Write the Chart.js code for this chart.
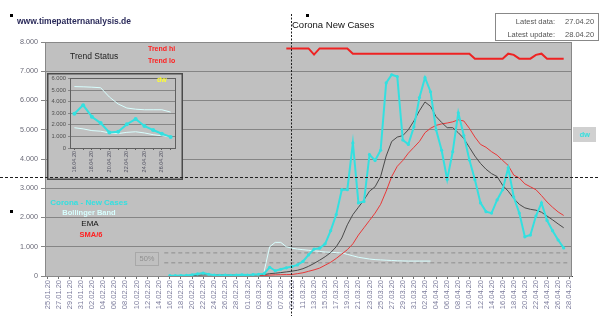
<!DOCTYPE html>
<html><head><meta charset="utf-8">
<script src="https://cdn.jsdelivr.net/npm/chart.js@4.4.1/dist/chart.umd.min.js"></script>
<style>
html,body{margin:0;padding:0;background:#fff;width:600px;height:316px;overflow:hidden;font-family:"Liberation Sans",Arial,sans-serif;}
#wrap{position:relative;width:600px;height:316px;}
canvas{position:absolute;}
.t{position:absolute;white-space:nowrap;line-height:1;}
.dot{position:absolute;width:3px;height:3px;background:#000;}
</style></head><body>
<div id="wrap">
<canvas id="main" width="600" height="316" style="left:0;top:0"></canvas>
<canvas id="inset" width="136" height="107" style="left:47px;top:73px"></canvas>

<div class="dot" style="left:10px;top:14px"></div>
<div class="dot" style="left:306px;top:14px"></div>
<div class="dot" style="left:10px;top:210px"></div>

<div class="t" style="left:17px;top:17px;font-size:8.5px;font-weight:bold;color:#2a2a5a">www.timepatternanalysis.de</div>
<div class="t" style="left:292px;top:20px;font-size:9.5px;color:#111">Corona New Cases</div>

<div style="position:absolute;left:495px;top:13px;width:102px;height:26px;border:1px solid #888;background:#fff;"></div>
<div class="t" style="left:495px;top:18px;width:60px;text-align:right;font-size:7.5px;color:#555">Latest data:</div>
<div class="t" style="left:565px;top:18px;font-size:7.5px;color:#555">27.04.20</div>
<div class="t" style="left:495px;top:31px;width:60px;text-align:right;font-size:7.5px;color:#555">Latest update:</div>
<div class="t" style="left:565px;top:31px;font-size:7.5px;color:#555">28.04.20</div>

<div class="t" style="left:70px;top:52px;font-size:8.5px;color:#222">Trend Status</div>
<div class="t" style="left:148px;top:45px;font-size:7px;font-weight:bold;color:#ff2020">Trend hi</div>
<div class="t" style="left:148px;top:57px;font-size:7px;font-weight:bold;color:#ff2020">Trend lo</div>
<div class="t" style="left:157px;top:76px;font-size:7px;font-weight:bold;color:#ffff30">dw</div>

<div class="t" style="left:39px;top:199px;width:100px;text-align:center;font-size:8px;font-weight:bold;color:#33e0e0">Corona - New Cases</div>
<div class="t" style="left:39px;top:209px;width:100px;text-align:center;font-size:7.5px;font-weight:bold;color:#d8ffff">Bollinger Band</div>
<div class="t" style="left:40px;top:220px;width:100px;text-align:center;font-size:8px;color:#111">EMA</div>
<div class="t" style="left:41px;top:231px;width:100px;text-align:center;font-size:7.5px;font-weight:bold;color:#ff2020">SMA/6</div>

<div class="t" style="left:135px;top:252px;width:24px;height:14px;border:1px solid #a8a8a8;box-sizing:border-box;text-align:center;font-size:7.5px;line-height:12px;color:#909090">50%</div>
<div class="t" style="left:573px;top:127px;width:23px;height:15px;background:#d0d0d0;text-align:center;font-size:7.5px;line-height:15px;font-weight:bold;color:#33e0e0">dw</div>

<canvas id="overlay" width="600" height="316" style="left:0;top:0;pointer-events:none"></canvas>
</div>
<script>
// ---------- categories (daily) ----------
const dateLabels = [
 '25.01.20','26.01.20','27.01.20','28.01.20','29.01.20','30.01.20','31.01.20',
 '01.02.20','02.02.20','03.02.20','04.02.20','05.02.20','06.02.20','07.02.20','08.02.20','09.02.20','10.02.20',
 '11.02.20','12.02.20','13.02.20','14.02.20','15.02.20','16.02.20','17.02.20','18.02.20','19.02.20','20.02.20',
 '21.02.20','22.02.20','23.02.20','24.02.20','25.02.20','26.02.20','27.02.20','28.02.20','29.02.20',
 '01.03.20','02.03.20','03.03.20','04.03.20','05.03.20','06.03.20','07.03.20','08.03.20','09.03.20','10.03.20',
 '11.03.20','12.03.20','13.03.20','14.03.20','15.03.20','16.03.20','17.03.20','18.03.20','19.03.20','20.03.20',
 '21.03.20','22.03.20','23.03.20','24.03.20','25.03.20','26.03.20','27.03.20','28.03.20','29.03.20','30.03.20','31.03.20',
 '01.04.20','02.04.20','03.04.20','04.04.20','05.04.20','06.04.20','07.04.20','08.04.20','09.04.20','10.04.20',
 '11.04.20','12.04.20','13.04.20','14.04.20','15.04.20','16.04.20','17.04.20','18.04.20','19.04.20','20.04.20',
 '21.04.20','22.04.20','23.04.20','24.04.20','25.04.20','26.04.20','27.04.20','28.04.20'
];

// ---------- series (each starts at the given date) ----------
const casesStart = '16.02.20';
const cases = [10,10,15,20,40,70,100,60,30,20,30,20,30,40,30,50,60,80,
  300,180,230,280,320,380,500,720,920,950,1100,1550,2100,2950,2950,4550,2500,2550,4150,3950,4300,
  6600,6880,6820,4650,4500,5100,6100,6780,6300,5000,4300,3300,4250,5580,4800,3970,3290,
  2500,2200,2150,2600,2950,3700,2700,2150,1340,1400,2050,2500,1900,1550,1230,960];

const emaStart = '16.02.20';
const ema = [5,6,8,10,15,25,35,40,38,35,33,30,30,32,32,36,40,48,
  80,95,115,140,165,195,250,330,430,540,660,800,1000,1300,1750,2100,2350,2600,2900,3050,
  3400,4100,4600,4750,4800,5000,5300,5650,5950,5800,5450,5250,5070,5070,4900,4700,4400,4100,3850,3650,
  3500,3400,3100,2900,2650,2450,2330,2280,2250,2180,2050,1920,1780,1650];

const smaStart = '03.03.20';
const sma = [10,15,30,40,45,48,50,80,110,160,210,270,370,470,600,750,
  900,1100,1400,1650,1900,2150,2450,2900,3400,3750,3950,4200,4400,4600,4900,5050,5150,5200,5230,5270,
  5340,5300,5050,4750,4500,4400,4250,4130,3950,3780,3450,3350,3150,3050,2950,2750,2530,2350,2190,2070];

const bollingerStart = '04.03.20';
const bollinger = [150,1000,1150,1150,1000,950,920,900,880,860,840,820,810,800,790,740,690,640,610,580,
  560,550,540,530,520,515,510,510,510,510,510];

const trendHiStart = '08.03.20';
const trendHi = [7780,7780,7780,7780,7780,7570,7780,7780,7780,7780,7780,7780,
  7600,7600,7600,7600,7600,7600,7600,7600,7600,7600,7600,7600,7600,7600,7600,7600,7600,7600,7600,7600,7600,7600,
  7430,7430,7430,7430,7430,7430,7600,7560,7430,7430,7430,7560,7600,7430,7430,7430,7430];

const bandLevels = [790, 450];          // dashed "50%" levels
const bandFrom = '15.02.20', bandTo = '28.04.20';
const thresholdLevel = 3400;            // long horizontal dashed line
const markerDate = '09.03.20';          // vertical dashed line

// inset (last 12 days)
const insetLabels = ['16.04.20','17.04.20','18.04.20','19.04.20','20.04.20','21.04.20','22.04.20','23.04.20','24.04.20','25.04.20','26.04.20','27.04.20'];
const insetCases = [2950,3700,2700,2150,1340,1400,2050,2500,1900,1550,1230,960];
const insetUpper = [5300,5280,5250,5200,4400,3800,3450,3350,3300,3300,3300,3100];
const insetLower = [1750,1650,1500,1450,1300,1250,1350,1400,1300,1150,1050,950];

// ---------- helpers ----------
function pad(startLabel, arr){
  const s = dateLabels.indexOf(startLabel);
  return dateLabels.map((_, i) => (i >= s && i < s + arr.length) ? arr[i - s] : null);
}
function constLine(v, fromLabel, toLabel){
  const a = dateLabels.indexOf(fromLabel), b = dateLabels.indexOf(toLabel);
  return dateLabels.map((_, i) => (i >= a && i <= b) ? v : null);
}
function fmt(v){ return String(v).replace(/\B(?=(\d{3})+(?!\d))/g, '.'); }
Chart.defaults.font.family = '"Liberation Sans", Arial, sans-serif';

const bgPlugin = {
  id: 'bg',
  beforeDraw(chart){
    const {ctx, chartArea:a} = chart;
    ctx.save(); ctx.fillStyle = '#c0c0c0';
    ctx.fillRect(a.left, a.top, a.right - a.left, a.bottom - a.top);
    ctx.restore();
  },
  afterDraw(chart){
    const {ctx, chartArea:a} = chart;
    ctx.save(); ctx.strokeStyle = '#888'; ctx.lineWidth = 1;
    ctx.strokeRect(Math.round(a.left)+0.5, Math.round(a.top)+0.5, Math.round(a.right - a.left)-1, Math.round(a.bottom - a.top));
    ctx.restore();
  }
};

const lineDs = (label, data, color, width, order, extra) => Object.assign({
  label, data, borderColor: color, backgroundColor: color, borderWidth: width,
  pointRadius: 0, tension: 0, spanGaps: false, order
}, extra || {});

const datasets = [
  lineDs('Corona - New Cases', pad(casesStart, cases), '#33e0e0', 2, 1,
    {pointRadius: 1.6, pointBorderWidth: 0, pointBackgroundColor: '#33e0e0'}),
  lineDs('EMA', pad(emaStart, ema), '#4a4a4a', 1, 2),
  lineDs('SMA', pad(smaStart, sma), '#e83838', 1, 3),
  lineDs('Trend hi', pad(trendHiStart, trendHi), '#ee2222', 2, 4),
  lineDs('Bollinger Band', pad(bollingerStart, bollinger), '#d8ffff', 1, 5),
];
bandLevels.forEach((v, k) => datasets.push(
  lineDs('50% ' + k, constLine(v, bandFrom, bandTo), '#8c8c8c', 1, 6, {borderDash: [4, 3]})));

const mainChart = new Chart(document.getElementById('main'), {
  type: 'line',
  data: { labels: dateLabels, datasets },
  options: {
    responsive: false, animation: false, devicePixelRatio: 1,
    layout: { padding: { left: 0, right: 28, top: 42, bottom: 0 } },
    plugins: { legend: { display: false }, tooltip: { enabled: false } },
    scales: {
      x: {
        offset: true,
        grid: { drawOnChartArea: false, drawTicks: true, tickLength: 3,
                color: (c) => (c.index % 2 === 0 ? '#707070' : 'rgba(0,0,0,0)') },
        border: { color: '#404040' },
        ticks: { autoSkip: false, minRotation: 90, maxRotation: 90, padding: 1,
                 font: { size: 7.5 }, color: '#7c7c9c',
                 callback: function(v, i){ return i % 2 === 0 ? this.getLabelForValue(v) : ''; } },
        afterFit: (s) => { s.height = 40; }
      },
      y: {
        min: 0, max: 8000,
        grid: { color: '#858585', tickLength: 4 },
        border: { color: '#404040' },
        ticks: { stepSize: 1000, padding: 3, font: { size: 7.2 }, color: '#6a6a78',
                 callback: (v) => fmt(v) },
        afterFit: (s) => { s.width = 45; }
      }
    }
  },
  plugins: [bgPlugin]
});

// overlay dashed reference lines (positions from the chart's scales)
(function(){
  const ov = document.getElementById('overlay').getContext('2d');
  const ys = mainChart.scales.y, xs = mainChart.scales.x;
  ov.strokeStyle = '#202020'; ov.lineWidth = 1;
  const yTh = Math.round(ys.getPixelForValue(thresholdLevel)) + 0.5;
  ov.setLineDash([3, 2]);
  ov.beginPath(); ov.moveTo(0, yTh); ov.lineTo(600, yTh); ov.stroke();
  const xv = Math.round(xs.getPixelForValue(dateLabels.indexOf(markerDate))) - 0.5;
  ov.setLineDash([2, 1.5]);
  ov.beginPath(); ov.moveTo(xv, 14); ov.lineTo(xv, 316); ov.stroke();
})();

// ---------- inset chart ----------
const insetBg = {
  id: 'insetBg',
  beforeDraw(chart){
    const {ctx, width, height} = chart;
    ctx.save(); ctx.fillStyle = '#c0c0c0'; ctx.fillRect(0, 0, width, height); ctx.restore();
  },
  afterDraw(chart){
    const {ctx, chartArea:a, width, height} = chart;
    ctx.save();
    ctx.strokeStyle = '#606060'; ctx.lineWidth = 1;
    ctx.strokeRect(Math.round(a.left)+0.5, Math.round(a.top)+0.5, Math.round(a.right-a.left), Math.round(a.bottom-a.top));
    ctx.strokeStyle = '#4a4a4a'; ctx.lineWidth = 1.5;
    ctx.strokeRect(0.75, 0.75, width - 1.5, height - 1.5);
    ctx.restore();
  }
};
new Chart(document.getElementById('inset'), {
  type: 'line',
  data: { labels: insetLabels, datasets: [
    { data: insetCases, borderColor: '#33e0e0', backgroundColor: '#33e0e0', borderWidth: 2,
      pointRadius: 2, pointBorderWidth: 0, tension: 0, order: 1 },
    { data: insetUpper, borderColor: '#d8ffff', borderWidth: 1, pointRadius: 0, tension: 0, order: 2 },
    { data: insetLower, borderColor: '#d8ffff', borderWidth: 1, pointRadius: 0, tension: 0, order: 3 }
  ]},
  options: {
    responsive: false, animation: false, devicePixelRatio: 1,
    layout: { padding: { left: 0, right: 8, top: 4, bottom: 0 } },
    plugins: { legend: { display: false }, tooltip: { enabled: false } },
    scales: {
      x: {
        offset: true,
        grid: { drawOnChartArea: false, tickLength: 2, color: '#606060' },
        border: { color: '#505050' },
        ticks: { autoSkip: false, minRotation: 90, maxRotation: 90, padding: 1,
                 font: { size: 5.5 }, color: '#505060',
                 callback: function(v, i){ return i % 2 === 0 ? this.getLabelForValue(v) : ''; } },
        afterFit: (s) => { s.height = 32; }
      },
      y: {
        min: 0, max: 6000,
        grid: { color: '#858585', tickLength: 2 },
        border: { color: '#505050' },
        ticks: { stepSize: 1000, padding: 2, font: { size: 5.8 }, color: '#505050', callback: (v) => fmt(v) },
        afterFit: (s) => { s.width = 23; }
      }
    }
  },
  plugins: [insetBg]
});
</script>
</body></html>
